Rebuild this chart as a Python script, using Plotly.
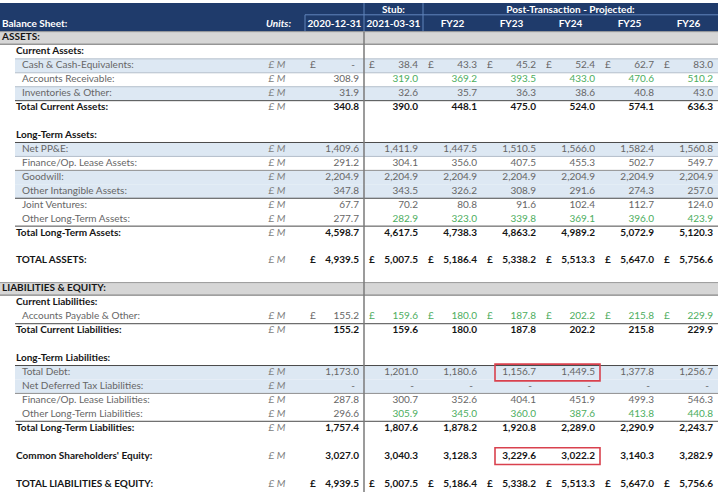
import plotly.graph_objects as go

# ---------------- data ----------------
periods = ["2020-12-31", "2021-03-31", "FY22", "FY23", "FY24", "FY25", "FY26"]
period_groups = ["Stub:", "Post-Transaction - Projected:"]

cash = [None, 38.4, 43.3, 45.2, 52.4, 62.7, 83.0]
accounts_receivable = [308.9, 319.0, 369.2, 393.5, 433.0, 470.6, 510.2]
inventories = [31.9, 32.6, 35.7, 36.3, 38.6, 40.8, 43.0]
total_current_assets = [340.8, 390.0, 448.1, 475.0, 524.0, 574.1, 636.3]
net_ppe = [1409.6, 1411.9, 1447.5, 1510.5, 1566.0, 1582.4, 1560.8]
lease_assets = [291.2, 304.1, 356.0, 407.5, 455.3, 502.7, 549.7]
goodwill = [2204.9, 2204.9, 2204.9, 2204.9, 2204.9, 2204.9, 2204.9]
other_intangibles = [347.8, 343.5, 326.2, 308.9, 291.6, 274.3, 257.0]
joint_ventures = [67.7, 70.2, 80.8, 91.6, 102.4, 112.7, 124.0]
other_lt_assets = [277.7, 282.9, 323.0, 339.8, 369.1, 396.0, 423.9]
total_lt_assets = [4598.7, 4617.5, 4738.3, 4863.2, 4989.2, 5072.9, 5120.3]
total_assets = [4939.5, 5007.5, 5186.4, 5338.2, 5513.3, 5647.0, 5756.6]
accounts_payable = [155.2, 159.6, 180.0, 187.8, 202.2, 215.8, 229.9]
total_current_liab = [155.2, 159.6, 180.0, 187.8, 202.2, 215.8, 229.9]
total_debt = [1173.0, 1201.0, 1180.6, 1156.7, 1449.5, 1377.8, 1256.7]
deferred_tax = [None, None, None, None, None, None, None]
lease_liab = [287.8, 300.7, 352.6, 404.1, 451.9, 499.3, 546.3]
other_lt_liab = [296.6, 305.9, 345.0, 360.0, 387.6, 413.8, 440.8]
total_lt_liab = [1757.4, 1807.6, 1878.2, 1920.8, 2289.0, 2290.9, 2243.7]
common_equity = [3027.0, 3040.3, 3128.3, 3229.6, 3022.2, 3140.3, 3282.9]
total_liab_equity = [4939.5, 5007.5, 5186.4, 5338.2, 5513.3, 5647.0, 5756.6]
units_label = "£ M"

# row spec: (label, kind, values, options)
rows = [
    ("ASSETS:", "section", None, {}),
    ("Current Assets:", "group", None, {}),
    ("Cash & Cash-Equivalents:", "item", cash, {"pound": True, "band": True}),
    ("Accounts Receivable:", "item", accounts_receivable, {"green": True}),
    ("Inventories & Other:", "item", inventories, {"band": True}),
    ("Total Current Assets:", "total", total_current_assets, {}),
    None,
    ("Long-Term Assets:", "group", None, {}),
    ("Net PP&E:", "item", net_ppe, {"band": True}),
    ("Finance/Op. Lease Assets:", "item", lease_assets, {}),
    ("Goodwill:", "item", goodwill, {"band": True}),
    ("Other Intangible Assets:", "item", other_intangibles, {"band": True}),
    ("Joint Ventures:", "item", joint_ventures, {}),
    ("Other Long-Term Assets:", "item", other_lt_assets, {"green": True}),
    ("Total Long-Term Assets:", "total", total_lt_assets, {}),
    None,
    ("TOTAL ASSETS:", "total", total_assets, {"pound": True}),
    None,
    ("LIABILITIES & EQUITY:", "section", None, {}),
    ("Current Liabilities:", "group", None, {}),
    ("Accounts Payable & Other:", "item", accounts_payable, {"pound": True, "green": True}),
    ("Total Current Liabilities:", "total", total_current_liab, {}),
    None,
    ("Long-Term Liabilities:", "group", None, {}),
    ("Total Debt:", "item", total_debt, {"band": True}),
    ("Net Deferred Tax Liabilities:", "item", deferred_tax, {"band": True}),
    ("Finance/Op. Lease Liabilities:", "item", lease_liab, {}),
    ("Other Long-Term Liabilities:", "item", other_lt_liab, {"green": True}),
    ("Total Long-Term Liabilities:", "total", total_lt_liab, {}),
    None,
    ("Common Shareholders' Equity:", "total", common_equity, {}),
    None,
    ("TOTAL LIABILITIES & EQUITY:", "total", total_liab_equity, {"pound": True}),
]

# separators: (row index of the row below the line, style)
separators = [(3, "light"), (4, "light"), (5, "light"), (6, "dark"),
              (9, "dark"), (10, "light"), (11, "mid"), (13, "dark"), (15, "dark"),
              (22, "dark"),
              (25, "dark"), (27, "mid"), (29, "dark")]
highlights = [(25, 3, 4), (31, 3, 4)]  # (row, first col, last col)

# ---------------- styling ----------------
FONT = "Lato"
FS = 10
NAVY = "#1F3B6B"
HDR_LINE = "#6185BC"
BAND = "#DDE8F3"
SECTION = "#D6D6D6"
GRAY_TXT = "#666666"
DARK_TXT = "#151515"
GREEN = "#4CAD5E"
UNIT_TXT = "#808080"
RED = "#D9414E"

W, H = 720, 492
ROW0_PX, ROW_PX = 24.0, 13.94
col_left = [305, 364, 423, 482, 541, 600, 659]
COL_W = 59
TABLE_R = 718
col_right = [l + COL_W - 5 for l in col_left]
pound_x = [l + 5 for l in col_left]
col_center = [l + COL_W / 2 for l in col_left]
LABEL_X = {"section": 2, "group": 16, "item": 22, "total": 16}
UNITS_X = 277

cells = {}


def put(x, r, s, pos, color, bold=False, italic=False):
    d = cells.setdefault((pos, bold, italic), dict(x=[], y=[], text=[], color=[]))
    d["x"].append(x)
    d["y"].append(r)
    d["text"].append(s)
    d["color"].append(color)


shapes = []


def rect(x0, x1, y0, y1, fill, layer="below"):
    shapes.append(dict(type="rect", xref="x", yref="y", x0=x0, x1=x1, y0=y0, y1=y1,
                       fillcolor=fill, line=dict(width=0), layer=layer))


def line(x0, x1, y0, y1, color, width=1, layer="below"):
    shapes.append(dict(type="line", xref="x", yref="y", x0=x0, x1=x1, y0=y0, y1=y1,
                       line=dict(color=color, width=width), layer=layer))


# header band
HDR_TOP, HDR_MID, HDR_BOT = -1.5, -0.66, 0.55
rect(0, TABLE_R, HDR_TOP, HDR_BOT, NAVY)
line(col_left[0], TABLE_R, HDR_MID, HDR_MID, HDR_LINE)
line(col_left[0], col_left[0], HDR_MID, HDR_BOT, HDR_LINE)
line(col_left[1], col_left[1], HDR_TOP, HDR_BOT, HDR_LINE)
line(col_left[2], col_left[2], HDR_TOP, HDR_BOT, HDR_LINE)

put(2, 0, "Balance Sheet:", "middle right", "white", bold=True)
put(291, 0, "Units:", "middle left", "white", bold=True, italic=True)
for c, p in enumerate(periods):
    put(col_center[c], 0, p, "middle center", "white", bold=True)
put((col_left[1] + col_left[2]) / 2, -1, period_groups[0], "middle center", "white", bold=True)
put((col_left[2] + TABLE_R) / 2, -1, period_groups[1], "middle center", "white", bold=True)

# body
for i, row in enumerate(rows):
    r = i + 1
    if row is None:
        continue
    label, kind, vals, opt = row
    if kind == "section":
        rect(0, TABLE_R, r - 0.45, r + 0.45, SECTION)
        line(0, TABLE_R, r - 0.45, r - 0.45, "#9A9A9A")
        line(0, TABLE_R, r + 0.45, r + 0.45, "#6E6E6E")
        put(LABEL_X[kind], r, label, "middle right", DARK_TXT, bold=True)
        continue
    if kind == "group":
        put(LABEL_X[kind], r, label, "middle right", DARK_TXT, bold=True)
        continue
    if opt.get("band"):
        rect(15, TABLE_R, r - 0.5, r + 0.5, BAND)
    bold = kind == "total"
    lab_col = DARK_TXT if bold else GRAY_TXT
    put(LABEL_X[kind], r, label, "middle right", lab_col, bold=bold)
    put(UNITS_X, r, units_label, "middle center", UNIT_TXT, italic=True)
    for c, v in enumerate(vals):
        col = GREEN if (opt.get("green") and c >= 1) else lab_col
        if opt.get("pound"):
            put(pound_x[c], r, "£", "middle right", col, bold=bold)
        if v is None:
            put(col_right[c] - 4, r, "-", "middle left", col, bold=bold)
        else:
            put(col_right[c], r, f"{v:,.1f}", "middle left", col, bold=bold)

for r, style in separators:
    color = {"light": "#B4BFCB", "mid": "#8F8F8F", "dark": "#4A4A4A"}[style]
    line(15, TABLE_R, r - 0.5, r - 0.5, color)

# vertical divider through the body
line(col_left[1], col_left[1], HDR_BOT, 34, "#7A7A7A", width=1.5, layer="above")

for r, c0, c1 in highlights:
    shapes.append(dict(type="rect", xref="x", yref="y", x0=col_left[c0] + 13, x1=col_left[c1] + COL_W,
                       y0=r - 0.6, y1=r + 0.6, line=dict(color=RED, width=1.6),
                       fillcolor="rgba(0,0,0,0)", layer="above"))

fig = go.Figure()
for (pos, bold, italic), d in cells.items():
    fig.add_trace(go.Scatter(
        x=d["x"], y=d["y"], text=d["text"], mode="text", textposition=pos,
        textfont=dict(family=FONT, size=FS, color=d["color"],
                      weight="bold" if bold else "normal",
                      style="italic" if italic else "normal"),
        hoverinfo="skip", showlegend=False, cliponaxis=False))

fig.update_layout(
    width=W, height=H, margin=dict(l=0, r=0, t=0, b=0),
    paper_bgcolor="white", plot_bgcolor="white",
    xaxis=dict(range=[0, W], visible=False, fixedrange=True),
    yaxis=dict(range=[(H - ROW0_PX) / ROW_PX, -ROW0_PX / ROW_PX], visible=False, fixedrange=True),
    shapes=shapes,
)
fig.write_html("out.html", config={"displayModeBar": False},
               post_script="document.body.style.margin='0';document.body.style.overflow='hidden';")
